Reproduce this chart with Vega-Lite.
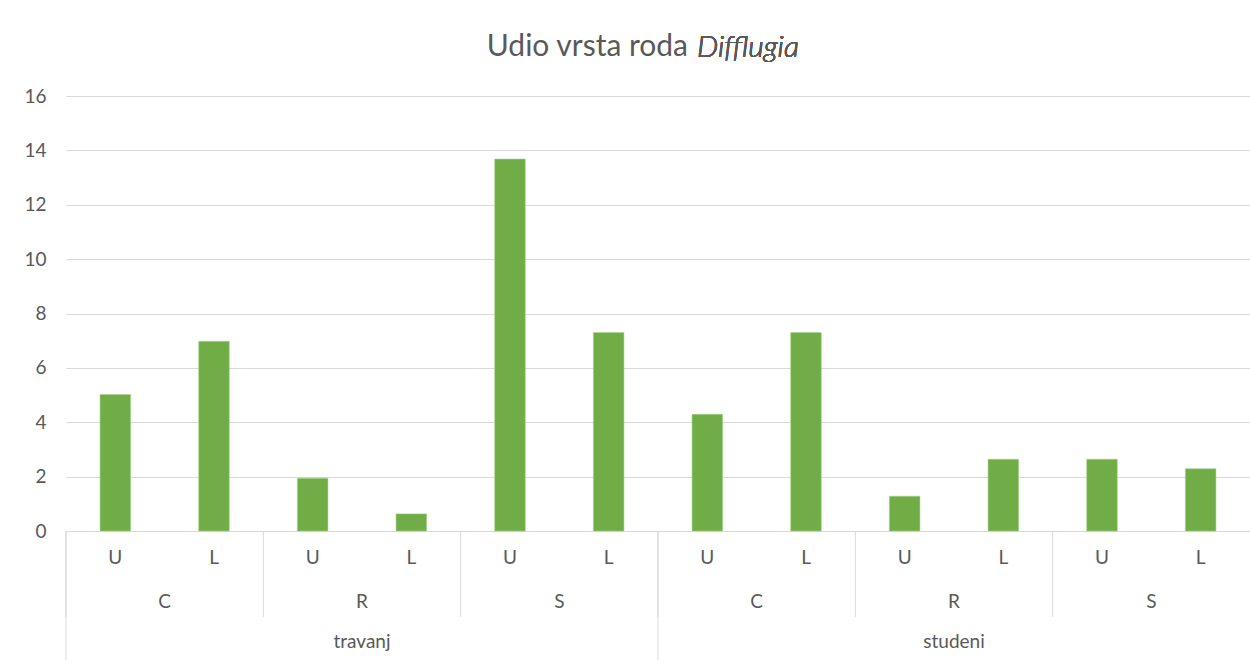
{
  "$schema": "https://vega.github.io/schema/vega-lite/v6.json",
  "autosize": {"type": "none"},
  "width": 1184,
  "height": 435,
  "padding": {"left": 66, "top": 96, "right": 0, "bottom": 139},
  "background": "white",
  "config": {
    "view": {"stroke": null},
    "font": "Lato",
    "text": {"font": "Lato", "color": "#595959"}
  },
  "title": {
    "text": "Udio vrsta roda",
    "anchor": "start",
    "frame": "group",
    "align": "right",
    "dx": 622,
    "baseline": "alphabetic",
    "offset": -53,
    "font": "Lato",
    "fontSize": 30,
    "fontWeight": "normal",
    "color": "#595959"
  },
  "data": {
    "values": [
      {"key": "travanj-C-U", "mjesec": "travanj", "lokacija": "C", "sloj": "U", "udio": 5.02},
      {"key": "travanj-C-L", "mjesec": "travanj", "lokacija": "C", "sloj": "L", "udio": 6.98},
      {"key": "travanj-R-U", "mjesec": "travanj", "lokacija": "R", "sloj": "U", "udio": 1.94},
      {"key": "travanj-R-L", "mjesec": "travanj", "lokacija": "R", "sloj": "L", "udio": 0.63},
      {"key": "travanj-S-U", "mjesec": "travanj", "lokacija": "S", "sloj": "U", "udio": 13.68},
      {"key": "travanj-S-L", "mjesec": "travanj", "lokacija": "S", "sloj": "L", "udio": 7.30},
      {"key": "studeni-C-U", "mjesec": "studeni", "lokacija": "C", "sloj": "U", "udio": 4.29},
      {"key": "studeni-C-L", "mjesec": "studeni", "lokacija": "C", "sloj": "L", "udio": 7.30},
      {"key": "studeni-R-U", "mjesec": "studeni", "lokacija": "R", "sloj": "U", "udio": 1.28},
      {"key": "studeni-R-L", "mjesec": "studeni", "lokacija": "R", "sloj": "L", "udio": 2.64},
      {"key": "studeni-S-U", "mjesec": "studeni", "lokacija": "S", "sloj": "U", "udio": 2.64},
      {"key": "studeni-S-L", "mjesec": "studeni", "lokacija": "S", "sloj": "L", "udio": 2.29}
    ]
  },
  "encoding": {
    "x": {
      "field": "key",
      "type": "nominal",
      "sort": null,
      "scale": {"paddingInner": 0, "paddingOuter": 0},
      "axis": {
        "title": null,
        "labelExpr": "slice(datum.label, -1)",
        "labelAngle": 0,
        "labelFont": "Lato",
        "labelFontSize": 19,
        "labelColor": "#595959",
        "labelPadding": 17,
        "ticks": false,
        "domainColor": "#d9d9d9",
        "domainWidth": 1,
        "grid": false
      }
    }
  },
  "layer": [
    {
      "mark": {"type": "bar", "width": {"band": 0.31}, "color": "#70ad47", "stroke": "#a9d18e", "strokeWidth": 0.6},
      "encoding": {
        "y": {
          "field": "udio",
          "type": "quantitative",
          "scale": {"domain": [0, 16], "nice": false},
          "axis": {
            "title": null,
            "values": [0, 2, 4, 6, 8, 10, 12, 14, 16],
            "domain": false,
            "ticks": false,
            "labelPadding": 20,
            "labelFont": "Lato",
            "labelFontSize": 19,
            "labelColor": "#595959",
            "gridColor": "#d9d9d9",
            "gridWidth": 1
          }
        }
      }
    },
    {
      "transform": [{"filter": "datum.sloj == 'U'"}],
      "mark": {"type": "rule", "color": "#d9d9d9", "strokeWidth": 1, "y2Offset": 86},
      "encoding": {
        "x": {"field": "key", "type": "nominal", "sort": null, "bandPosition": 0},
        "y": {"datum": 0},
        "y2": {"datum": 0}
      }
    },
    {
      "transform": [{"filter": "datum.lokacija == 'C' && datum.sloj == 'U'"}],
      "mark": {"type": "rule", "color": "#d9d9d9", "strokeWidth": 1, "y2Offset": 129},
      "encoding": {
        "x": {"field": "key", "type": "nominal", "sort": null, "bandPosition": 0},
        "y": {"datum": 0},
        "y2": {"datum": 0}
      }
    },
    {
      "transform": [{"filter": "datum.sloj == 'L'"}],
      "mark": {"type": "text", "fontSize": 19, "color": "#595959", "baseline": "alphabetic", "align": "center", "dy": 77},
      "encoding": {
        "x": {"field": "key", "type": "nominal", "sort": null, "bandPosition": 0},
        "y": {"datum": 0},
        "text": {"field": "lokacija"}
      }
    },
    {
      "transform": [{"filter": "datum.lokacija == 'R' && datum.sloj == 'L'"}],
      "mark": {"type": "text", "fontSize": 19, "color": "#595959", "baseline": "alphabetic", "align": "center", "dy": 117},
      "encoding": {
        "x": {"field": "key", "type": "nominal", "sort": null, "bandPosition": 0},
        "y": {"datum": 0},
        "text": {"field": "mjesec"}
      }
    },
    {
      "mark": {"type": "text", "fontSize": 30, "fontStyle": "italic", "fontWeight": 300, "color": "#595959", "baseline": "alphabetic", "align": "left", "dx": 39, "dy": -39},
      "encoding": {
        "x": {"datum": "studeni-C-U", "bandPosition": 0},
        "y": {"datum": 16},
        "text": {"value": "Difflugia"}
      }
    }
  ]
}
